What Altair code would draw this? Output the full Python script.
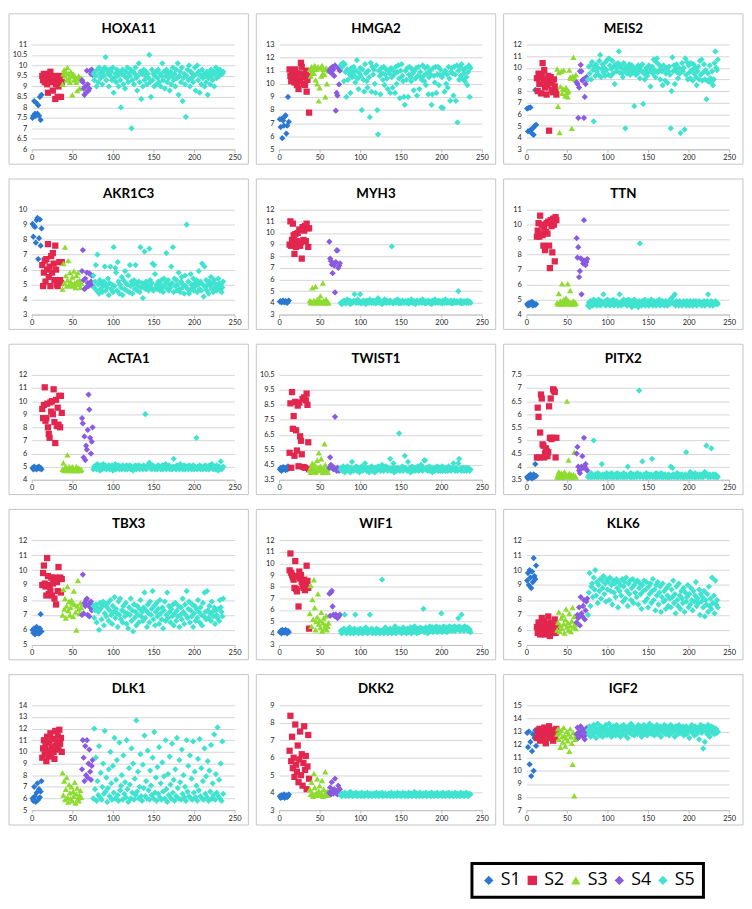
import altair as alt
import pandas as pd

# ---------------- groups ----------------
GROUPS = ["S1", "S2", "S3", "S4", "S5"]
GROUP_START = [1, 13, 38, 62, 76]
GROUP_COLORS = ["#2a78d2", "#e2264e", "#8ddc2e", "#8a5ae0", "#3fe3cf"]
GROUP_SHAPES = ["diamond", "square", "triangle-up", "diamond", "diamond"]

GENES = ["HOXA11", "HMGA2", "MEIS2", "AKR1C3", "MYH3", "TTN", "ACTA1", "TWIST1",
         "PITX2", "TBX3", "WIF1", "KLK6", "DLK1", "DKK2", "IGF2"]
Y_MIN = [6, 5, 3, 3, 3, 4, 4, 3.5, 3.5, 5, 3, 5, 5, 3, 7]
Y_MAX = [11, 13, 12, 10, 12, 11, 12, 10.5, 7.5, 12, 12, 12, 14, 9, 15]
Y_STEP = [0.5, 1, 1, 1, 1, 1, 1, 1, 0.5, 1, 1, 1, 1, 1, 1]
X_TICKS = [0, 50, 100, 150, 200, 250]

# ---------------- HOXA11 ----------------
HOXA11_S1 = [7.5, 7.6, 8.3, 7.7, 7.6, 8.2, 7.7, 8.1, 7.6, 8.5, 7.4, 8.6]
HOXA11_S2 = [9.5, 9.3, 9.6, 9.2, 9.4, 9.5, 9.1, 8.7, 9.3, 9.6, 9.7, 9.4, 9.2, 8.8, 9.3,
             9.5, 8.4, 9.1, 9.4, 8.5, 9.0, 9.3, 9.5, 8.5, 9.2]
HOXA11_S3 = [9.1, 9.6, 9.8, 9.5, 9.7, 9.3, 9.9, 9.6, 9.4, 9.2, 9.7, 9.5, 8.6, 9.6, 9.3,
             9.5, 9.4, 9.2, 8.8, 9.4, 9.5, 8.9, 9.3, 9.4]
HOXA11_S4 = [9.3, 9.2, 8.9, 8.6, 9.0, 8.7, 9.75, 9.1, 8.8, 8.9, 9.75, 9.6, 9.8, 9.55]
HOXA11_S5 = [9.6, 9.3, 9.7, 9.5, 9.0, 9.8, 9.2, 9.9, 9.6, 9.4, 9.8, 9.1, 9.7, 9.5, 9.9, 10.4, 9.3, 9.8, 9.6, 9.0,
             9.8, 9.5, 9.7, 9.3, 9.9, 8.7, 9.4, 9.6, 9.2, 9.8, 9.5, 9.0, 9.7, 9.3, 8.0, 9.6, 9.8, 9.1, 9.5, 8.9,
             9.7, 9.4, 9.9, 9.2, 9.6, 9.5, 9.8, 7.0, 9.3, 9.7, 9.1, 9.6, 9.9, 9.4, 8.8, 9.5, 10.1, 9.2, 9.7, 8.4,
             9.6, 9.0, 9.8, 9.3, 9.5, 9.7, 9.1, 9.6, 9.4, 10.5, 9.2, 8.5, 9.8, 9.3, 9.6, 9.0, 9.5, 9.7, 9.1, 9.4,
             9.8, 9.2, 9.6, 9.0, 9.5, 10.1, 9.3, 9.7, 8.9, 9.5, 9.8, 9.2, 9.6, 9.4, 8.8, 9.7, 9.1, 9.5, 9.9, 9.3,
             9.6, 9.0, 9.8, 9.4, 10.1, 8.6, 9.5, 9.7, 9.2, 9.9, 8.3, 9.4, 9.6, 9.1, 7.55, 9.5, 9.8, 9.3, 10.0, 9.0,
             9.7, 9.4, 9.6, 9.2, 9.5, 9.9, 8.8, 9.6, 10.0, 9.3, 9.7, 8.7, 9.5, 9.1, 9.8, 9.4, 9.6, 9.0, 9.5, 9.2,
             9.7, 8.6, 9.4, 9.6, 9.1, 9.8, 9.5, 9.3, 9.7, 9.0, 9.6, 9.9, 9.4, 9.8, 9.7, 9.5, 9.8, 9.6, 9.7, 9.6, 9.7]

# ---------------- HMGA2 ----------------
HMGA2_S1 = [7.3, 6.7, 7.3, 5.85, 7.2, 6.8, 7.5, 7.6, 6.2, 6.8, 9.0, 7.1]
HMGA2_S2 = [11.1, 10.6, 10.2, 11.0, 10.4, 10.9, 10.1, 11.1, 10.6, 9.9, 10.3, 9.6, 10.8, 10.2, 11.6,
            11.3, 10.7, 10.0, 10.5, 9.9, 11.0, 9.4, 10.3, 10.6, 7.8]
HMGA2_S3 = [11.1, 10.6, 11.3, 11.0, 11.2, 10.8, 11.4, 10.3, 11.1, 10.0, 11.3, 8.7, 9.7, 11.2, 10.6,
            11.4, 10.8, 11.1, 10.7, 9.0, 11.2, 10.0, 11.1, 11.0]
HMGA2_S4 = [11.0, 10.9, 11.2, 10.8, 11.3, 11.1, 10.6, 11.4, 7.95, 9.3, 9.1, 11.2, 9.95, 11.0]
HMGA2_S5 = [11.4, 11.5, 11.3, 11.6, 10.2, 11.5, 10.9, 9.0, 11.1, 10.3, 11.0, 10.7, 9.3, 11.2, 10.5, 10.9, 11.3, 10.6, 10.1, 11.0,
            11.8, 10.4, 9.6, 10.8, 11.2, 10.6, 8.0, 11.1, 10.3, 9.4, 11.5, 10.8, 10.2, 9.7, 11.0, 10.5, 7.45, 11.6, 9.4, 11.3,
            10.7, 11.1, 10.0, 9.3, 11.4, 8.0, 6.15, 11.0, 10.6, 9.2, 11.2, 10.8, 10.3, 11.3, 9.9, 10.7, 11.1, 10.4, 9.6, 11.0,
            10.8, 9.3, 11.2, 10.5, 9.7, 11.0, 10.7, 9.3, 11.3, 10.0, 10.9, 11.4, 10.4, 8.9, 11.0, 11.5, 10.6, 10.2, 9.0, 8.4,
            11.0, 10.3, 11.2, 9.0, 10.7, 11.3, 10.5, 10.2, 11.1, 10.8, 9.5, 11.0, 10.4, 11.2, 9.1, 10.6, 11.3, 9.6, 10.9, 10.5,
            10.3, 11.4, 10.6, 10.2, 11.2, 9.9, 10.8, 11.3, 9.2, 10.5, 11.0, 10.7, 8.4, 9.2, 11.2, 10.6, 10.1, 11.3, 9.3, 10.7,
            11.3, 9.9, 10.7, 11.1, 8.2, 10.5, 8.15, 10.8, 9.4, 11.0, 10.0, 10.7, 9.7, 11.3, 10.4, 8.7, 10.9, 11.2, 10.8, 9.1,
            11.3, 10.7, 8.7, 11.4, 7.05, 11.0, 10.3, 11.3, 10.6, 11.5, 10.4, 11.1, 10.8, 10.2, 11.2, 10.5, 9.9, 10.9, 11.4, 9.0, 11.2]

# ---------------- MEIS2 ----------------
MEIS2_S1 = [6.5, 4.55, 6.55, 4.6, 6.6, 4.7, 4.35, 4.8, 4.25, 5.0, 8.1, 5.1]
MEIS2_S2 = [9.1, 8.0, 9.5, 8.6, 9.2, 7.8, 9.4, 10.4, 8.8, 9.8, 8.3, 9.0, 7.7, 8.5, 9.3,
            4.6, 8.9, 9.2, 8.1, 8.7, 7.9, 9.0, 8.4, 8.0, 7.7]
MEIS2_S3 = [9.9, 6.7, 9.6, 4.45, 8.4, 9.7, 7.8, 8.2, 9.8, 8.1, 7.6, 8.3, 7.9, 7.5, 8.0,
            9.8, 9.2, 9.1, 4.8, 9.3, 10.9, 9.2, 9.0, 9.4]
MEIS2_S4 = [8.75, 8.6, 5.7, 8.3, 9.7, 10.25, 9.7, 8.9, 9.0, 5.7, 7.5, 8.6, 9.2, 9.0]
MEIS2_S5 = [9.0, 10.1, 9.5, 10.2, 9.0, 10.5, 9.8, 5.4, 10.1, 9.3, 10.3, 9.7, 10.0, 9.4, 10.6, 11.1, 9.2, 9.9, 10.3, 9.6,
            10.0, 9.3, 10.5, 9.8, 10.7, 9.4, 10.8, 10.2, 9.3, 9.9, 10.6, 9.5, 10.1, 8.6, 10.3, 9.7, 10.0, 10.4, 11.4, 9.6,
            10.2, 10.0, 9.5, 9.2, 10.4, 9.8, 4.8, 10.1, 9.5, 10.0, 9.7, 10.3, 9.4, 9.9, 10.2, 9.6, 10.0, 6.7, 9.8, 9.4,
            10.0, 9.5, 10.2, 9.8, 9.1, 10.1, 9.7, 10.3, 6.9, 9.5, 9.0, 9.8, 10.0, 9.3, 9.6, 10.2, 9.7, 8.4, 9.9, 10.1,
            9.5, 10.7, 9.8, 9.2, 10.5, 10.8, 9.6, 10.3, 9.8, 9.0, 10.1, 9.7, 8.5, 10.2, 9.9, 8.9, 9.5, 10.0, 8.7, 9.7,
            10.1, 9.4, 4.8, 8.0, 10.9, 9.7, 10.2, 8.6, 9.9, 10.3, 9.6, 9.1, 10.0, 9.5, 4.4, 9.8, 10.4, 9.7, 10.0, 4.7,
            10.8, 9.4, 10.5, 9.0, 10.2, 9.6, 9.1, 10.4, 9.8, 8.9, 10.3, 9.5, 10.0, 9.2, 8.5, 9.7, 10.1, 9.0, 10.6, 9.4,
            10.7, 8.9, 9.6, 10.3, 9.0, 9.8, 7.3, 8.9, 9.5, 8.8, 10.2, 9.1, 8.8, 9.7, 8.5, 9.0, 10.4, 11.4, 10.0, 9.8, 10.7]

# ---------------- AKR1C3 ----------------
AKR1C3_S1 = [9.05, 8.2, 8.9, 8.85, 7.8, 9.3, 9.45, 6.7, 8.1, 9.35, 7.6, 8.75]
AKR1C3_S2 = [6.3, 4.9, 5.8, 6.6, 5.2, 6.7, 6.0, 7.7, 5.5, 6.2, 4.9, 6.9, 5.8, 7.1, 6.4,
             5.3, 7.6, 6.0, 5.0, 4.9, 5.2, 6.5, 5.3, 5.1, 6.5]
AKR1C3_S3 = [4.7, 6.4, 5.1, 7.5, 5.6, 4.9, 5.3, 6.6, 5.0, 5.8, 5.2, 4.9, 5.5, 5.0, 5.9,
             5.1, 4.8, 5.6, 5.2, 5.8, 5.0, 5.3, 4.8, 5.1]
AKR1C3_S4 = [5.9, 7.3, 5.3, 4.7, 5.4, 4.8, 5.8, 5.1, 4.9, 5.75, 5.0, 5.2, 5.6, 4.9]
AKR1C3_S5 = [5.6, 4.8, 5.2, 6.3, 4.6, 7.0, 5.0, 4.4, 5.3, 4.7, 5.1, 4.5, 4.9, 5.2, 6.2, 4.6, 5.0, 4.8, 5.4, 4.3,
             5.1, 6.2, 4.7, 5.0, 4.5, 7.5, 4.9, 6.1, 5.8, 4.6, 6.5, 5.2, 4.4, 5.0, 4.8, 5.5, 4.3, 5.3, 4.7, 5.9,
             5.1, 4.6, 5.0, 5.6, 4.5, 6.3, 4.9, 5.2, 4.4, 5.0, 5.3, 4.7, 6.3, 5.1, 4.6, 4.9, 5.2, 4.5, 7.5, 4.8,
             5.1, 4.1, 5.0, 7.2, 4.7, 5.2, 4.9, 5.0, 4.6, 7.4, 5.3, 4.8, 5.1, 6.4, 4.6, 6.3, 5.7, 4.8, 5.0, 4.7,
             5.2, 4.9, 4.6, 5.0, 5.3, 4.8, 4.5, 5.4, 4.9, 5.1, 7.1, 4.7, 5.3, 4.6, 5.0, 4.8, 6.2, 5.1, 7.5, 4.5,
             5.4, 4.9, 5.3, 4.6, 5.0, 5.8, 4.7, 4.5, 5.2, 5.5, 4.8, 5.0, 4.4, 5.6, 4.9, 9.0, 4.7, 5.2, 4.4, 4.6,
             5.7, 5.0, 4.8, 5.4, 4.6, 5.1, 4.9, 5.3, 4.5, 5.0, 5.9, 4.7, 5.2, 4.6, 6.4, 5.0, 4.2, 6.2, 4.8, 5.3,
             4.6, 5.0, 4.4, 5.2, 4.9, 5.5, 4.7, 5.1, 4.5, 5.3, 4.8, 5.0, 4.6, 4.9, 5.4, 5.1, 4.7, 5.0, 4.5, 4.8, 5.2]

# ---------------- MYH3 ----------------
MYH3_S1 = [4.1, 4.15, 4.05, 4.1, 4.2, 4.1, 4.05, 4.15, 4.1, 4.0, 4.1, 4.2]
MYH3_S2 = [9.0, 11.0, 8.9, 9.4, 10.8, 9.8, 8.2, 9.9, 8.8, 9.3, 10.0, 9.1, 10.3, 8.9, 9.2,
           7.8, 10.5, 9.4, 10.2, 10.6, 9.3, 10.8, 10.4, 8.8, 10.4]
MYH3_S3 = [4.2, 4.0, 4.1, 5.3, 4.0, 4.2, 4.1, 5.4, 4.0, 4.3, 4.1, 4.0, 4.2, 4.6, 4.1,
           4.0, 5.7, 4.2, 4.0, 4.1, 4.3, 4.0, 4.1, 4.0]
MYH3_S4 = [9.25, 7.8, 7.6, 7.3, 6.55, 7.35, 7.2, 4.9, 7.5, 8.5, 8.5, 7.0, 7.2, 7.4]
MYH3_S5 = [4.0, 3.9, 4.1, 4.0, 4.2, 4.1, 3.95, 4.0, 4.3, 4.1, 4.0, 4.2, 3.9, 4.1, 4.0, 4.05, 4.2, 4.75, 4.1, 4.0,
           4.15, 4.3, 4.0, 4.1, 4.75, 3.95, 4.1, 4.0, 4.2, 4.1, 4.0, 3.9, 4.2, 4.1, 4.05, 4.0, 4.3, 4.1, 4.0, 4.15,
           4.0, 4.2, 4.1, 3.95, 4.0, 4.1, 4.4, 4.05, 4.2, 4.0, 4.1, 3.9, 4.15, 4.0, 4.3, 4.1, 4.0, 4.2, 4.05, 4.1,
           4.0, 4.2, 4.1, 8.85, 4.0, 3.95, 4.1, 4.2, 4.0, 4.1, 4.3, 4.0, 4.15, 3.95, 4.1, 4.0, 4.2, 4.1, 4.0, 4.05,
           4.15, 4.0, 4.1, 4.2, 3.95, 4.0, 4.1, 4.3, 4.05, 4.0, 4.15, 4.1, 3.9, 4.0, 4.2, 4.1, 4.0, 4.05, 4.2, 4.1,
           4.0, 4.3, 4.1, 4.0, 3.95, 4.15, 4.0, 4.1, 4.2, 4.05, 4.0, 4.1, 3.9, 4.2, 4.0, 4.1, 4.3, 4.0, 4.15, 4.1,
           4.0, 4.2, 4.05, 4.1, 4.0, 3.95, 4.2, 4.1, 4.0, 4.3, 4.1, 4.0, 4.15, 4.05, 4.1, 4.0, 4.2, 3.95, 4.1, 4.0,
           4.2, 4.1, 4.0, 4.15, 4.05, 5.0, 4.1, 4.0, 4.2, 3.95, 4.1, 4.0, 4.15, 4.05, 4.1, 4.0, 4.2, 4.0, 4.05, 4.1, 4.0]

# ---------------- TTN ----------------
TTN_S1 = [4.7, 4.6, 4.75, 4.65, 4.8, 4.7, 4.85, 4.6, 4.75, 4.7, 4.65, 4.7]
TTN_S2 = [9.2, 9.6, 10.1, 9.2, 10.6, 9.4, 10.0, 9.3, 8.6, 9.8, 8.3, 9.5, 10.1, 9.4, 10.2,
          8.6, 7.1, 10.3, 9.9, 8.15, 10.4, 10.0, 7.55, 10.5, 10.3]
TTN_S3 = [4.8, 4.7, 5.4, 4.75, 4.9, 4.7, 6.05, 4.8, 5.0, 4.7, 4.85, 5.1, 4.75, 6.05, 4.9,
          4.7, 5.6, 4.8, 4.7, 4.75, 4.9, 4.7, 4.8, 4.75]
TTN_S4 = [9.1, 7.8, 8.5, 6.5, 6.9, 7.75, 5.35, 7.65, 7.4, 10.3, 7.6, 7.3, 7.5, 7.7]
TTN_S5 = [4.6, 4.8, 4.5, 4.9, 4.7, 4.8, 4.6, 5.0, 4.7, 4.9, 4.8, 4.6, 4.7, 5.0, 4.8, 4.6, 4.9, 4.7, 4.8, 5.35,
          4.7, 4.9, 4.6, 4.8, 5.0, 4.7, 4.8, 4.6, 4.9, 4.7, 4.8, 5.0, 4.6, 4.8, 4.7, 4.9, 4.8, 4.6, 4.7, 5.35,
          4.8, 4.6, 4.9, 4.7, 5.0, 4.8, 4.7, 4.9, 4.6, 4.8, 5.0, 4.7, 4.8, 4.9, 4.5, 4.7, 4.8, 5.0, 4.6, 4.9,
          4.8, 4.7, 4.5, 4.9, 8.75, 4.8, 4.6, 4.9, 4.7, 4.8, 5.0, 4.6, 4.8, 4.7, 4.9, 4.6, 4.8, 4.7, 5.0, 4.8,
          4.6, 4.9, 4.7, 4.8, 4.6, 4.9, 4.8, 4.7, 5.0, 4.6, 4.8, 4.7, 4.9, 4.8, 4.6, 4.7, 4.9, 4.8, 4.6, 4.8,
          4.9, 4.7, 5.0, 5.1, 4.8, 5.2, 4.7, 5.35, 4.6, 4.9, 4.8, 4.7, 4.6, 4.9, 4.8, 4.7, 4.6, 4.8, 4.9, 4.7,
          4.8, 4.6, 4.9, 4.7, 4.8, 4.6, 4.9, 4.7, 4.8, 4.6, 4.9, 4.7, 4.8, 4.9, 4.6, 4.7, 4.8, 4.9, 4.7, 4.8,
          4.6, 4.8, 4.7, 4.9, 4.6, 4.8, 4.7, 4.9, 5.35, 4.8, 4.6, 4.7, 4.9, 4.8, 4.6, 4.7, 4.8, 4.9, 4.7, 4.8, 4.7]

# ---------------- ACTA1 ----------------
ACTA1_S1 = [4.9, 4.8, 5.0, 4.85, 4.9, 4.8, 4.95, 4.9, 5.0, 4.85, 4.9, 4.8]
ACTA1_S2 = [9.4, 8.7, 9.7, 11.05, 8.5, 8.7, 9.8, 8.0, 7.5, 7.2, 9.9, 9.2, 10.0, 9.0, 10.9,
            8.4, 6.8, 10.1, 8.1, 9.5, 8.2, 10.4, 8.0, 10.4, 9.1]
ACTA1_S3 = [4.8, 5.3, 4.7, 4.9, 5.0, 4.8, 5.9, 4.7, 5.0, 4.9, 4.8, 4.7, 5.0, 4.9, 4.8,
            4.7, 4.9, 5.0, 4.8, 4.7, 4.9, 4.8, 4.7, 4.8]
ACTA1_S4 = [8.7, 8.3, 5.7, 7.3, 5.5, 6.6, 6.3, 7.8, 10.5, 9.35, 7.2, 6.0, 6.9, 8.0]
ACTA1_S5 = [4.8, 5.0, 4.9, 5.1, 4.8, 5.2, 4.9, 5.0, 4.7, 5.1, 4.9, 4.8, 5.2, 5.0, 4.9, 5.1, 4.8, 5.0, 4.9, 5.1,
            4.8, 5.0, 4.9, 5.1, 4.7, 5.0, 4.9, 5.2, 4.8, 5.0, 4.9, 5.1, 4.8, 4.9, 5.0, 4.8, 5.1, 4.9, 5.0, 4.8,
            4.9, 5.1, 4.8, 5.0, 4.9, 5.1, 4.8, 5.0, 4.9, 4.7, 5.0, 4.9, 5.1, 4.8, 5.0, 4.9, 5.1, 4.8, 5.0, 4.9,
            5.0, 4.8, 5.1, 4.9, 9.0, 4.8, 5.0, 4.9, 5.2, 5.3, 4.9, 5.0, 4.8, 5.1, 4.9, 5.0, 4.8, 4.9, 5.0, 4.8,
            5.1, 4.9, 5.0, 4.8, 4.9, 5.1, 4.8, 5.0, 4.9, 5.2, 4.8, 5.0, 4.9, 5.1, 4.8, 5.0, 4.9, 4.8, 5.0, 5.6,
            4.9, 5.0, 4.8, 5.1, 4.9, 5.0, 4.8, 5.2, 4.9, 5.0, 4.8, 4.9, 5.1, 4.8, 5.0, 4.9, 5.0, 4.8, 5.1, 4.9,
            5.0, 4.8, 4.9, 5.1, 4.8, 5.0, 4.9, 7.2, 4.8, 5.0, 4.9, 5.1, 4.8, 5.0, 4.9, 4.8, 5.0, 4.9, 5.1, 4.8,
            4.9, 5.0, 4.8, 5.1, 4.9, 5.0, 5.2, 4.9, 4.8, 5.0, 4.9, 4.8, 5.1, 4.9, 4.7, 5.0, 4.9, 5.4, 4.8, 4.9, 5.0]

# ---------------- TWIST1 ----------------
TWIST1_S1 = [4.2, 4.3, 4.1, 4.25, 4.35, 4.2, 4.3, 4.15, 4.3, 4.2, 4.4, 4.25]
TWIST1_S2 = [5.3, 8.6, 4.3, 9.35, 6.9, 7.75, 5.1, 8.7, 6.8, 5.45, 8.45, 4.4, 8.65, 6.4, 6.1,
             5.2, 8.9, 4.35, 9.0, 4.3, 8.8, 9.25, 8.5, 6.0, 4.2]
TWIST1_S3 = [4.2, 4.0, 4.4, 4.6, 4.1, 4.3, 4.5, 4.0, 4.2, 4.8, 4.3, 5.3, 4.1, 4.4, 4.9,
             4.2, 4.0, 4.3, 5.9, 4.5, 4.1, 4.2, 4.0, 4.3]
TWIST1_S4 = [4.3, 5.0, 4.5, 4.4, 4.3, 4.2, 4.3, 7.7, 4.2, 4.1, 4.3, 4.2, 4.1, 4.2]
TWIST1_S5 = [4.2, 4.3, 4.1, 4.4, 4.2, 4.0, 4.3, 4.2, 4.4, 4.1, 4.3, 4.2, 4.0, 4.3, 4.7, 4.2, 4.1, 4.3, 4.2, 4.4,
             4.1, 4.3, 4.2, 4.0, 4.3, 4.2, 4.4, 4.1, 4.2, 4.3, 4.6, 4.2, 4.1, 4.3, 4.2, 4.0, 4.3, 4.2, 4.4, 4.1,
             4.3, 4.2, 4.0, 4.3, 4.1, 4.2, 4.4, 4.2, 4.3, 4.1, 4.2, 4.5, 4.3, 4.1, 4.2, 4.3, 4.4, 4.2, 4.1, 4.3,
             4.2, 4.9, 4.1, 4.3, 4.2, 4.6, 4.0, 4.3, 4.2, 4.1, 4.3, 4.2, 6.6, 4.1, 4.3, 4.2, 4.4, 4.1, 4.2, 5.1,
             4.3, 4.2, 4.1, 4.7, 4.2, 4.3, 4.0, 4.2, 4.4, 4.1, 4.3, 4.2, 4.1, 4.3, 4.2, 4.4, 4.1, 4.2, 4.3, 4.5,
             4.2, 4.1, 4.3, 4.8, 4.8, 4.2, 4.3, 4.1, 4.2, 4.4, 4.1, 4.3, 4.2, 4.0, 4.3, 4.2, 4.1, 4.3, 4.2, 4.4,
             4.1, 4.2, 4.3, 4.1, 4.2, 4.4, 4.1, 4.3, 4.2, 4.1, 4.3, 4.2, 4.1, 4.4, 4.2, 4.3, 4.1, 4.2, 4.3, 4.6,
             4.2, 4.1, 4.3, 4.2, 4.1, 4.6, 4.9, 4.2, 4.3, 4.1, 4.2, 4.3, 4.1, 4.2, 4.3, 4.1, 4.2, 4.3, 4.2, 4.1, 4.2]

# ---------------- PITX2 ----------------
PITX2_S1 = [3.6, 3.55, 3.65, 3.6, 3.7, 3.6, 3.55, 3.65, 3.7, 3.6, 4.1, 3.65]
PITX2_S2 = [4.35, 6.25, 5.9, 4.35, 5.3, 6.75, 6.6, 4.85, 4.8, 4.35, 4.5, 4.7, 4.6, 4.4, 4.55,
            6.3, 5.1, 6.6, 5.05, 5.1, 6.95, 6.9, 6.85, 4.35, 5.1]
PITX2_S3 = [3.6, 3.7, 3.8, 3.6, 3.65, 3.75, 3.6, 3.7, 3.65, 3.8, 3.6, 3.7, 6.5, 3.65, 4.25,
            3.75, 3.6, 3.7, 3.65, 3.6, 3.7, 4.55, 3.65, 3.6]
PITX2_S4 = [4.5, 4.75, 4.0, 3.85, 3.75, 3.9, 4.0, 4.4, 3.95, 5.1, 4.0, 4.1, 3.9, 3.85]
PITX2_S5 = [3.6, 3.65, 3.7, 3.6, 3.75, 3.6, 3.65, 5.0, 3.6, 3.7, 3.65, 3.6, 3.75, 3.6, 3.7, 3.65, 3.6, 4.1, 3.7, 3.6,
            3.65, 3.7, 3.6, 3.75, 3.6, 3.65, 3.7, 3.6, 3.65, 3.75, 3.6, 3.7, 3.6, 3.65, 3.7, 3.6, 3.75, 3.6, 3.65, 3.7,
            3.6, 3.65, 3.7, 3.6, 3.75, 3.6, 3.65, 3.7, 3.6, 4.0, 3.65, 3.7, 3.6, 3.75, 3.6, 3.65, 3.7, 3.6, 3.65, 3.7,
            3.6, 3.75, 3.65, 6.9, 3.6, 3.7, 3.65, 4.2, 3.6, 3.7, 3.65, 3.6, 3.75, 3.6, 3.65, 3.7, 3.6, 3.65, 3.7, 4.3,
            3.6, 3.65, 3.7, 3.6, 3.75, 3.6, 3.65, 3.7, 3.6, 3.65, 3.75, 3.6, 3.7, 3.6, 3.65, 3.7, 3.6, 3.65, 3.6, 3.7,
            3.6, 3.65, 4.0, 3.6, 3.95, 3.7, 3.6, 3.65, 3.7, 3.6, 3.75, 3.6, 3.65, 3.7, 3.6, 3.65, 3.7, 3.6, 3.65, 3.6,
            3.7, 4.55, 3.6, 3.65, 3.7, 3.6, 3.8, 3.65, 3.6, 3.7, 3.65, 3.6, 3.75, 3.6, 3.65, 3.7, 3.6, 3.65, 3.7, 3.6,
            3.65, 3.7, 3.6, 3.75, 3.8, 3.65, 4.8, 3.7, 3.6, 3.65, 3.7, 3.6, 4.7, 3.65, 3.7, 3.6, 3.65, 3.7, 3.6, 3.65, 3.6]

# ---------------- TBX3 ----------------
TBX3_S1 = [6.0, 5.8, 6.1, 5.7, 5.9, 6.2, 5.8, 6.0, 5.75, 6.1, 7.05, 5.9]
TBX3_S2 = [9.0, 9.8, 10.3, 9.1, 8.9, 8.3, 10.8, 9.6, 8.4, 9.0, 8.6, 9.5, 8.3, 9.1, 9.4,
           8.1, 9.5, 7.7, 9.2, 8.6, 10.2, 9.4, 9.5, 8.5, 9.4]
TBX3_S3 = [7.0, 8.7, 7.4, 8.1, 6.8, 7.6, 8.9, 7.3, 7.9, 7.0, 7.5, 8.0, 7.8, 6.9, 8.6,
           7.7, 7.2, 6.0, 7.6, 9.3, 7.4, 7.1, 7.8, 7.5]
TBX3_S4 = [7.0, 9.7, 7.1, 7.8, 7.6, 8.0, 8.1, 7.0, 7.7, 6.9, 7.5, 7.9, 7.3, 7.6]
TBX3_S5 = [7.6, 6.8, 7.3, 7.7, 6.5, 7.5, 7.2, 6.0, 7.8, 7.4, 6.7, 7.6, 7.9, 6.3, 7.1, 7.7, 6.9, 7.5, 7.8, 6.6,
           7.3, 8.0, 7.0, 6.4, 7.6, 7.2, 8.2, 6.8, 7.4, 7.1, 6.2, 7.9, 7.0, 8.1, 6.7, 7.3, 6.5, 7.6, 7.2, 6.9,
           7.8, 6.4, 7.1, 6.1, 7.5, 7.0, 8.1, 6.6, 7.3, 5.9, 7.7, 6.8, 7.2, 6.3, 7.6, 7.0, 6.5, 7.4, 8.0, 6.9,
           7.2, 6.6, 7.5, 8.5, 6.8, 7.3, 6.2, 7.7, 7.1, 6.5, 7.9, 7.0, 7.4, 8.6, 6.7, 7.6, 6.3, 7.2, 7.8, 6.9,
           7.4, 6.4, 8.0, 7.1, 6.7, 7.5, 6.1, 7.3, 7.9, 6.6, 7.0, 8.5, 6.8, 7.6, 7.2, 6.5, 7.4, 6.9, 7.7, 6.3,
           7.1, 7.8, 6.6, 7.3, 6.9, 7.6, 6.2, 7.0, 7.5, 6.7, 8.1, 7.2, 6.4, 7.7, 7.0, 8.6, 6.8, 7.4, 7.9, 6.5,
           7.3, 6.9, 7.7, 6.2, 7.1, 7.6, 6.6, 7.4, 6.8, 8.0, 7.2, 6.5, 7.5, 7.0, 6.3, 7.8, 6.9, 8.5, 7.2, 6.7,
           8.6, 7.3, 6.8, 7.6, 7.1, 6.6, 7.9, 7.2, 6.9, 7.5, 6.4, 7.3, 7.0, 6.8, 7.4, 6.6, 8.0, 7.5, 7.2, 6.9, 8.1]

# ---------------- WIF1 ----------------
WIF1_S1 = [4.1, 4.2, 4.0, 4.3, 4.1, 4.2, 4.05, 4.3, 4.15, 4.0, 4.2, 4.1]
WIF1_S2 = [9.4, 10.85, 9.2, 9.0, 8.8, 8.6, 7.9, 10.2, 7.8, 7.6, 8.9, 6.3, 9.3, 8.7, 9.0,
           8.4, 8.1, 7.9, 8.6, 7.7, 8.3, 9.8, 8.5, 7.9, 4.4]
WIF1_S3 = [5.7, 8.1, 4.6, 6.9, 5.2, 8.6, 6.2, 4.3, 5.0, 5.4, 7.4, 4.8, 5.1, 4.5, 5.8,
           4.2, 4.9, 5.3, 4.4, 4.7, 5.5, 4.3, 4.6, 4.9]
WIF1_S4 = [7.4, 5.5, 7.5, 7.65, 6.3, 5.6, 5.5, 5.5, 5.6, 5.5, 5.3, 5.4, 5.5, 5.6]
WIF1_S5 = [4.2, 4.0, 4.3, 4.1, 4.4, 5.6, 4.2, 4.0, 4.3, 4.1, 4.2, 4.5, 4.0, 4.3, 4.1, 4.2, 4.0, 4.4, 5.6, 4.2,
           4.1, 4.3, 4.0, 4.2, 4.4, 4.1, 4.3, 4.0, 4.2, 4.1, 4.3, 4.5, 4.2, 4.0, 4.3, 4.1, 5.6, 4.2, 4.4, 4.0,
           4.3, 4.1, 4.2, 4.0, 4.4, 4.2, 4.1, 4.3, 4.0, 4.2, 4.1, 8.6, 4.3, 4.0, 4.2, 4.5, 4.1, 4.3, 4.0, 4.2,
           4.1, 4.4, 4.2, 4.0, 4.3, 4.1, 4.2, 4.6, 4.0, 4.3, 4.1, 4.2, 4.4, 4.1, 4.3, 4.0, 4.2, 4.5, 4.1, 4.3,
           4.2, 4.0, 4.4, 4.1, 4.3, 4.2, 4.5, 4.0, 4.3, 4.1, 4.2, 4.6, 4.1, 4.3, 4.0, 4.4, 4.2, 4.1, 4.5, 4.3,
           4.2, 4.4, 6.1, 4.1, 4.3, 4.5, 4.2, 4.0, 4.4, 4.1, 4.6, 4.3, 4.2, 4.5, 4.1, 4.4, 4.2, 4.3, 4.6, 4.1,
           4.4, 4.2, 4.5, 4.3, 5.7, 4.1, 4.4, 4.6, 4.2, 4.3, 4.5, 4.1, 4.4, 4.2, 4.6, 4.3, 4.5, 4.2, 4.4, 4.3,
           4.6, 4.2, 4.5, 4.3, 4.4, 5.3, 4.6, 4.2, 4.4, 5.6, 4.3, 4.5, 4.2, 4.6, 4.4, 4.3, 4.5, 4.2, 4.4, 4.3, 4.1]

# ---------------- KLK6 ----------------
KLK6_S1 = [9.3, 9.8, 9.0, 10.0, 9.5, 8.8, 9.9, 9.2, 10.8, 9.6, 9.4, 10.3]
KLK6_S2 = [6.2, 5.8, 6.5, 6.0, 5.7, 6.3, 6.8, 5.9, 6.1, 6.6, 5.7, 6.4, 6.0, 5.8, 6.9,
           6.2, 5.6, 6.5, 6.1, 5.9, 6.3, 6.0, 6.7, 5.8, 6.2]
KLK6_S3 = [6.0, 6.5, 7.2, 5.9, 6.3, 6.8, 6.1, 7.0, 6.4, 5.8, 6.7, 7.4, 6.2, 6.5, 6.0,
           7.1, 6.3, 5.9, 6.6, 7.5, 6.2, 6.9, 6.4, 6.1]
KLK6_S4 = [6.5, 7.0, 6.8, 7.5, 6.3, 8.2, 7.1, 6.9, 7.6, 8.0, 6.7, 7.3, 7.9, 8.1]
KLK6_S5 = [7.0, 8.5, 9.8, 7.6, 8.9, 9.1, 8.2, 9.5, 8.7, 10.0, 8.3, 9.2, 7.8, 9.0, 8.6, 9.4, 8.1, 9.3, 8.8, 9.6,
           8.4, 9.1, 7.9, 9.4, 8.7, 9.2, 8.0, 9.5, 8.6, 9.0, 7.7, 9.3, 8.5, 9.1, 8.2, 9.4, 8.8, 7.5, 9.2, 8.6,
           9.0, 8.3, 9.4, 7.9, 8.9, 9.2, 8.1, 9.5, 8.6, 7.6, 9.1, 8.4, 9.3, 8.0, 8.8, 9.4, 7.8, 9.0, 8.5, 9.2,
           8.2, 9.3, 7.7, 8.8, 9.1, 8.4, 7.4, 9.0, 8.6, 9.3, 7.9, 8.7, 9.2, 8.1, 7.5, 8.9, 8.4, 9.1, 7.8, 8.6,
           9.4, 8.0, 8.7, 7.3, 9.0, 8.3, 9.2, 7.7, 8.5, 8.9, 7.2, 8.2, 9.1, 7.9, 8.6, 8.0, 7.4, 8.8, 8.3, 7.6,
           9.0, 8.1, 7.5, 8.7, 8.2, 9.3, 7.8, 8.4, 7.1, 8.9, 8.0, 7.6, 9.1, 8.3, 7.4, 8.6, 8.1, 7.8, 8.8, 7.2,
           8.5, 7.9, 8.2, 9.0, 7.5, 8.4, 7.7, 8.8, 8.0, 7.3, 8.6, 7.9, 8.3, 9.2, 7.6, 8.1, 7.8, 8.7, 7.0, 8.4,
           7.9, 8.2, 7.5, 8.6, 6.9, 8.0, 7.7, 8.4, 7.2, 8.9, 7.6, 8.1, 7.4, 9.5, 7.8, 8.3, 7.1, 9.3, 7.7, 8.0, 7.5]

# ---------------- DLK1 ----------------
DLK1_S1 = [6.0, 5.8, 7.0, 6.2, 5.7, 6.5, 7.3, 5.9, 6.8, 6.1, 6.6, 7.5]
DLK1_S2 = [9.5, 10.3, 11.0, 9.8, 10.6, 9.2, 11.3, 10.1, 9.6, 10.8, 11.6, 9.9, 10.4, 11.1, 10.0,
           9.4, 11.8, 10.5, 10.9, 11.4, 10.2, 11.9, 10.7, 11.2, 10.0]
DLK1_S3 = [8.2, 6.3, 7.5, 5.9, 6.8, 7.8, 6.1, 5.7, 7.2, 6.5, 6.0, 7.0, 5.8, 6.6, 6.2,
           7.4, 5.6, 6.4, 6.9, 6.0, 5.8, 6.3, 6.7, 6.1]
DLK1_S4 = [8.5, 11.0, 9.5, 7.5, 10.5, 8.0, 11.0, 7.8, 9.0, 10.2, 8.3, 7.6, 8.8, 9.3]
DLK1_S5 = [6.0, 12.0, 6.8, 9.5, 5.8, 7.5, 6.3, 10.5, 6.1, 8.2, 5.9, 7.0, 9.0, 6.4, 11.8, 6.6, 7.8, 5.7, 6.9, 8.5,
           6.2, 10.0, 7.3, 5.9, 8.8, 6.5, 11.2, 6.0, 7.6, 9.3, 6.3, 5.8, 10.8, 6.7, 7.1, 8.0, 5.9, 9.7, 6.4, 7.4,
           6.1, 11.0, 6.8, 5.7, 8.6, 7.2, 6.0, 10.3, 6.5, 9.0, 5.9, 7.7, 6.3, 12.7, 6.6, 8.3, 6.0, 7.0, 9.8, 6.2,
           5.8, 8.9, 6.9, 11.4, 6.2, 7.5, 6.0, 10.1, 6.7, 5.9, 8.4, 7.1, 6.3, 9.5, 6.0, 11.7, 6.5, 7.8, 5.8, 8.7,
           6.4, 10.4, 6.1, 7.3, 5.9, 9.1, 6.6, 7.9, 6.0, 11.0, 6.8, 5.7, 8.1, 6.3, 9.6, 7.2, 6.0, 10.7, 6.5, 7.6,
           5.8, 8.5, 6.2, 11.2, 6.9, 6.0, 9.3, 7.4, 5.9, 10.2, 6.4, 8.0, 6.1, 7.0, 5.8, 11.0, 6.6, 8.8, 6.2, 9.7,
           6.0, 7.7, 5.9, 10.9, 6.5, 8.3, 6.1, 7.1, 5.8, 9.4, 6.7, 11.1, 6.2, 8.6, 6.0, 7.5, 5.9, 10.3, 6.4, 7.9,
           6.1, 9.2, 5.8, 8.4, 6.6, 10.6, 6.0, 7.3, 6.3, 11.5, 5.9, 8.1, 6.5, 12.1, 6.2, 7.6, 6.0, 9.0, 5.8, 10.9, 6.4]

# ---------------- DKK2 ----------------
DKK2_S1 = [3.8, 3.7, 3.85, 3.75, 3.8, 3.9, 3.7, 3.8, 3.85, 3.75, 3.8, 3.9]
DKK2_S2 = [6.4, 8.4, 5.8, 7.2, 5.4, 6.0, 4.9, 7.9, 5.6, 5.2, 6.7, 4.6, 5.9, 7.5, 5.0,
           6.2, 4.4, 5.7, 7.8, 5.3, 6.1, 4.2, 5.5, 7.3, 4.8]
DKK2_S3 = [4.2, 3.9, 4.6, 4.0, 3.8, 5.1, 4.3, 3.9, 4.0, 4.8, 3.85, 4.1, 4.4, 3.9, 4.0,
           4.7, 3.8, 4.2, 3.9, 5.2, 4.0, 3.85, 4.1, 3.9]
DKK2_S4 = [4.0, 4.3, 3.9, 4.6, 4.1, 3.95, 4.2, 4.8, 4.0, 4.1, 3.9, 4.4, 4.0, 4.2]
DKK2_S5 = [3.9, 3.8, 3.95, 3.85, 3.9, 4.0, 3.8, 3.9, 3.85, 3.95, 3.8, 3.9, 4.05, 3.85, 3.9, 3.8, 3.95, 3.9, 3.85, 4.0,
           3.8, 3.9, 3.85, 3.95, 3.9, 3.8, 4.0, 3.85, 3.9, 3.8, 3.95, 3.85, 3.9, 4.0, 3.8, 3.9, 3.85, 3.95, 3.8, 3.9,
           3.85, 3.95, 3.9, 3.8, 4.0, 3.85, 3.9, 3.8, 3.95, 3.9, 3.85, 4.0, 3.8, 3.9, 3.85, 3.95, 3.9, 3.8, 3.85, 3.95,
           3.9, 3.8, 4.0, 3.85, 3.9, 3.8, 3.95, 3.9, 3.85, 3.8, 4.0, 3.9, 3.85, 3.95, 3.8, 3.9, 3.85, 4.0, 3.9, 3.8,
           3.95, 3.85, 3.9, 3.8, 4.0, 3.9, 3.85, 3.95, 3.8, 3.9, 3.85, 4.05, 3.9, 3.8, 3.95, 3.85, 3.9, 3.8, 4.0, 3.85,
           3.9, 3.8, 3.95, 3.9, 3.85, 4.0, 3.8, 3.9, 3.85, 3.95, 3.9, 3.8, 4.0, 3.85, 3.9, 3.8, 3.95, 3.9, 3.85, 4.0,
           3.8, 3.9, 3.85, 3.95, 3.9, 3.8, 4.0, 3.85, 3.9, 3.8, 3.95, 3.9, 3.85, 4.0, 3.8, 3.9, 3.85, 3.95, 3.9, 3.8,
           3.85, 4.0, 3.9, 3.8, 3.95, 3.85, 3.9, 3.8, 4.0, 3.9, 3.85, 3.95, 3.8, 3.9, 3.85, 4.0, 3.9, 3.8, 3.85, 3.95, 3.9]

# ---------------- IGF2 ----------------
IGF2_S1 = [12.9, 11.8, 13.0, 10.5, 12.2, 9.6, 11.5, 12.8, 10.0, 12.5, 13.1, 11.9]
IGF2_S2 = [12.5, 13.0, 12.7, 13.2, 12.3, 12.9, 13.1, 12.6, 12.4, 13.3, 12.8, 12.1, 13.0, 12.6, 12.9,
           13.4, 12.5, 12.8, 13.1, 12.7, 12.3, 13.0, 12.6, 12.9, 13.2]
IGF2_S3 = [12.8, 13.2, 12.4, 12.9, 11.8, 13.1, 12.6, 12.2, 13.3, 12.7, 11.9, 12.5, 13.0, 12.3, 12.8,
           11.5, 13.2, 12.6, 12.1, 10.5, 12.9, 8.1, 12.4, 12.7]
IGF2_S4 = [12.8, 13.3, 12.5, 13.0, 12.7, 13.4, 12.9, 13.2, 12.6, 13.1, 12.4, 13.0, 12.8, 13.3]
IGF2_S5 = [13.1, 12.8, 13.4, 12.6, 13.2, 13.0, 12.7, 13.5, 12.9, 13.3, 12.5, 13.1, 13.6, 12.8, 13.2, 12.7, 13.4, 13.0, 12.6, 13.3,
           13.1, 12.9, 13.5, 12.7, 13.2, 13.0, 13.6, 12.8, 13.3, 12.6, 13.1, 13.4, 12.9, 13.2, 12.7, 13.5, 13.0, 12.8, 13.3, 13.1,
           12.6, 13.4, 13.0, 12.8, 13.5, 13.2, 12.7, 13.3, 13.0, 12.5, 13.4, 12.9, 13.2, 13.6, 12.8, 13.1, 13.4, 12.7, 13.2, 13.0,
           13.3, 12.8, 13.5, 13.1, 12.9, 13.4, 12.6, 13.2, 13.0, 13.5, 12.8, 13.3, 13.1, 12.7, 13.4, 13.0, 13.6, 12.9, 13.2, 12.8,
           13.4, 13.0, 12.7, 13.3, 13.1, 13.5, 12.8, 13.2, 13.0, 13.4, 12.6, 13.3, 13.1, 12.9, 13.5, 13.2, 12.8, 13.4, 13.0, 13.3,
           12.7, 13.2, 13.5, 13.0, 12.9, 13.3, 13.1, 12.6, 13.4, 13.0, 13.2, 12.8, 13.5, 13.1, 12.9, 13.3, 13.0, 13.4, 12.7, 13.2,
           13.0, 13.4, 12.8, 13.2, 13.1, 12.5, 13.3, 13.0, 13.5, 12.9, 13.2, 12.7, 13.4, 13.1, 12.8, 13.3, 13.0, 12.4, 13.2, 13.5,
           12.9, 13.1, 11.7, 13.4, 12.2, 13.0, 13.3, 12.8, 13.5, 13.1, 12.6, 13.2, 13.4, 12.9, 13.0, 13.3, 12.8, 13.1, 13.2, 12.9, 13.0]

SERIES = {
    "HOXA11": [HOXA11_S1, HOXA11_S2, HOXA11_S3, HOXA11_S4, HOXA11_S5],
    "HMGA2": [HMGA2_S1, HMGA2_S2, HMGA2_S3, HMGA2_S4, HMGA2_S5],
    "MEIS2": [MEIS2_S1, MEIS2_S2, MEIS2_S3, MEIS2_S4, MEIS2_S5],
    "AKR1C3": [AKR1C3_S1, AKR1C3_S2, AKR1C3_S3, AKR1C3_S4, AKR1C3_S5],
    "MYH3": [MYH3_S1, MYH3_S2, MYH3_S3, MYH3_S4, MYH3_S5],
    "TTN": [TTN_S1, TTN_S2, TTN_S3, TTN_S4, TTN_S5],
    "ACTA1": [ACTA1_S1, ACTA1_S2, ACTA1_S3, ACTA1_S4, ACTA1_S5],
    "TWIST1": [TWIST1_S1, TWIST1_S2, TWIST1_S3, TWIST1_S4, TWIST1_S5],
    "PITX2": [PITX2_S1, PITX2_S2, PITX2_S3, PITX2_S4, PITX2_S5],
    "TBX3": [TBX3_S1, TBX3_S2, TBX3_S3, TBX3_S4, TBX3_S5],
    "WIF1": [WIF1_S1, WIF1_S2, WIF1_S3, WIF1_S4, WIF1_S5],
    "KLK6": [KLK6_S1, KLK6_S2, KLK6_S3, KLK6_S4, KLK6_S5],
    "DLK1": [DLK1_S1, DLK1_S2, DLK1_S3, DLK1_S4, DLK1_S5],
    "DKK2": [DKK2_S1, DKK2_S2, DKK2_S3, DKK2_S4, DKK2_S5],
    "IGF2": [IGF2_S1, IGF2_S2, IGF2_S3, IGF2_S4, IGF2_S5],
}

# ---------------- layout ----------------
W, H = 205, 106          # plot area of each panel
FL, FR, FT, FB = 23, 14, 31, 15   # frame offsets around plot area
COL_PITCH, ROW_PITCH = 250, 167
FONT = "Lato"


def make_panel(name, ymin, ymax, ystep):
    rows = []
    for g, start, vals in zip(GROUPS, GROUP_START, SERIES[name]):
        for i, v in enumerate(vals):
            rows.append({"sample": start + i, "value": v, "group": g})
    df = pd.DataFrame(rows)
    n = int(round((ymax - ymin) / ystep))
    yticks = [round(ymin + k * ystep, 2) for k in range(n + 1)]
    one = pd.DataFrame({"k": [0]})

    frame = alt.Chart(one).mark_rect(
        fill="white", fillOpacity=0, stroke="#c4c4c4", strokeWidth=1
    ).encode(
        x=alt.value(-FL), x2=alt.value(W + FR), y=alt.value(-FT), y2=alt.value(H + FB)
    )

    title = alt.Chart(one).mark_text(
        text=name, font=FONT, fontWeight="bold", fontSize=13.5, color="#000000",
        align="center", baseline="middle"
    ).encode(x=alt.value((W + FR - FL) / 2), y=alt.value(-16))

    pts = alt.Chart(df).mark_point(filled=True, opacity=1, size=40, strokeWidth=0).encode(
        x=alt.X("sample:Q",
                scale=alt.Scale(domain=[0, 250], nice=False, zero=False),
                axis=alt.Axis(values=X_TICKS, title=None, grid=False, domain=True,
                              domainColor="#bdbdbd", ticks=True, tickColor="#bdbdbd",
                              tickSize=3, labelFontSize=7.5, labelFont=FONT,
                              labelColor="#222222", labelPadding=1, format=".1~f",
                              labelOverlap=False, labelFlush=False)),
        y=alt.Y("value:Q",
                scale=alt.Scale(domain=[ymin, ymax], nice=False, zero=False),
                axis=alt.Axis(values=yticks, title=None, grid=True, gridColor="#d6d6d6",
                              domain=False, ticks=False, labelFontSize=7.5, labelFont=FONT,
                              labelColor="#222222", labelPadding=5, format=".1~f",
                              labelOverlap=False)),
        color=alt.Color("group:N", scale=alt.Scale(domain=GROUPS, range=GROUP_COLORS), title=None),
        shape=alt.Shape("group:N", scale=alt.Scale(domain=GROUPS, range=GROUP_SHAPES), title=None),
    )

    return alt.layer(frame, title, pts).properties(width=W, height=H)


panels = [make_panel(n, lo, hi, st) for n, lo, hi, st in zip(GENES, Y_MIN, Y_MAX, Y_STEP)]

chart = alt.concat(
    *panels, columns=3, bounds="flush",
    spacing={"row": ROW_PITCH - H, "column": COL_PITCH - W}
).resolve_scale(
    x="independent", y="independent", color="shared", shape="shared"
).properties(
    padding=0
).configure_view(
    stroke="transparent"
).configure_legend(
    orient="none", legendX=445, legendY=828, direction="horizontal", columns=5,
    strokeColor="#000000", strokeWidth=3, padding=8, fillColor="white",
    labelFont="Open Sans", labelFontSize=18, labelColor="#000000", labelOffset=3,
    symbolSize=90, symbolStrokeWidth=0, columnPadding=2
)

chart.save("out.html", embed_options={"renderer": "svg", "actions": False})
